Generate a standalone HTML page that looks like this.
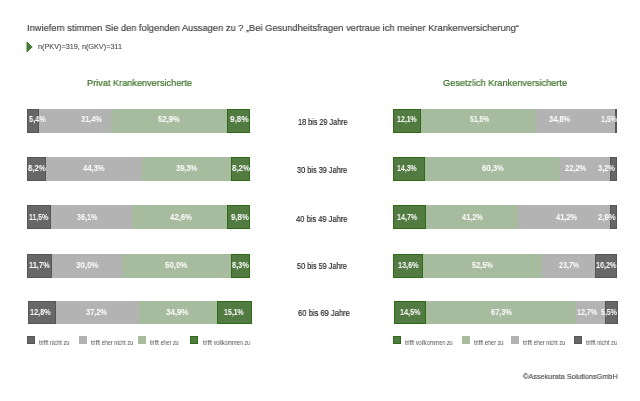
<!DOCTYPE html>
<html><head><meta charset="utf-8">
<style>
html,body{margin:0;padding:0;background:#fff;}
body{width:640px;height:401px;position:relative;overflow:hidden;font-family:"Liberation Sans",sans-serif;}
.s{position:absolute;box-sizing:border-box;}
.tri{position:absolute;}
div[id]{position:absolute;white-space:nowrap;transform-origin:0 0;will-change:transform;}
.v{color:#fff;font-size:8.8px;line-height:10px;font-weight:bold;}
.age{color:#1a1a1a;font-size:8.4px;line-height:10px;-webkit-text-stroke:0.15px #1a1a1a;}
.lg{color:#555;font-size:6.6px;line-height:8px;}
.title{color:#444;font-size:9.95px;line-height:14px;-webkit-text-stroke:0.2px #444;}
.n{color:#4a4a4a;font-size:7px;line-height:10px;-webkit-text-stroke:0.1px #4a4a4a;}
.h{color:#3a7026;font-size:9.3px;line-height:14px;-webkit-text-stroke:0.2px #3a7026;}
.copy{color:#4a4a4a;font-size:8px;line-height:10px;-webkit-text-stroke:0.15px #4a4a4a;}
</style></head><body>
<div id="t0" class="title" style="left:27px;top:20.9px;transform:scaleX(0.9346);">Inwiefern stimmen Sie den folgenden Aussagen zu ? „Bei Gesundheitsfragen vertraue ich meiner Krankenversicherung“</div>
<svg class="tri" width="8" height="12" style="left:26px;top:41.4px"><polygon points="1,1 6.2,6 1,11" fill="#4a7a3a" stroke="#2f6a18" stroke-width="0.8"/></svg>
<div id="t1" class="n" style="left:37.8px;top:41.7px;transform:scaleX(1.0394);">n(PKV)=319, n(GKV)=311</div>
<div id="t2" class="h" style="left:87px;top:76px;transform:scaleX(0.9863);">Privat Krankenversicherte</div>
<div id="t3" class="h" style="left:443px;top:76px;transform:scaleX(0.9834);">Gesetzlich Krankenversicherte</div>
<div class="s" style="left:27px;top:109px;width:11.8px;height:24px;background:#666766;border:1px solid #555655;"></div>
<div class="s" style="left:38.8px;top:109px;width:71.8px;height:24px;background:#b3b3b3;"></div>
<div class="s" style="left:110.6px;top:109px;width:116.6px;height:24px;background:#a7bb9f;"></div>
<div class="s" style="left:227.2px;top:109px;width:22.8px;height:24px;background:#527b42;border:1px solid #2f6a18;"></div>
<div id="t4" class="v" style="left:29px;top:114.2px;transform:scaleX(0.8324);">5,4%</div>
<div id="t5" class="v" style="left:81px;top:114.2px;transform:scaleX(0.8416);">31,4%</div>
<div id="t6" class="v" style="left:158.2px;top:114.2px;transform:scaleX(0.8736);">52,9%</div>
<div id="t7" class="v" style="left:229.7px;top:114.2px;transform:scaleX(0.9271);">9,8%</div>
<div class="s" style="left:27px;top:157px;width:18.8px;height:24px;background:#666766;border:1px solid #555655;"></div>
<div class="s" style="left:45.8px;top:157px;width:95.8px;height:24px;background:#b3b3b3;"></div>
<div class="s" style="left:141.6px;top:157px;width:89.4px;height:24px;background:#a7bb9f;"></div>
<div class="s" style="left:231px;top:157px;width:19.0px;height:24px;background:#527b42;border:1px solid #2f6a18;"></div>
<div id="t8" class="v" style="left:27.9px;top:163.1px;transform:scaleX(0.8872);">8,2%</div>
<div id="t9" class="v" style="left:83.2px;top:163.1px;transform:scaleX(0.8656);">44,3%</div>
<div id="t10" class="v" style="left:175.6px;top:163.1px;transform:scaleX(0.8496);">39,3%</div>
<div id="t11" class="v" style="left:231.9px;top:163.1px;transform:scaleX(0.8922);">8,2%</div>
<div class="s" style="left:27px;top:205px;width:23.6px;height:24px;background:#666766;border:1px solid #555655;"></div>
<div class="s" style="left:50.6px;top:205px;width:81.8px;height:24px;background:#b3b3b3;"></div>
<div class="s" style="left:132.4px;top:205px;width:94.8px;height:24px;background:#a7bb9f;"></div>
<div class="s" style="left:227.2px;top:205px;width:22.8px;height:24px;background:#527b42;border:1px solid #2f6a18;"></div>
<div id="t12" class="v" style="left:29px;top:211.6px;transform:scaleX(0.7806);">11,5%</div>
<div id="t13" class="v" style="left:76.8px;top:211.6px;transform:scaleX(0.8215);">36,1%</div>
<div id="t14" class="v" style="left:169.5px;top:211.6px;transform:scaleX(0.8857);">42,6%</div>
<div id="t15" class="v" style="left:230.6px;top:211.6px;transform:scaleX(0.8872);">9,8%</div>
<div class="s" style="left:27px;top:254px;width:25.3px;height:24px;background:#666766;border:1px solid #555655;"></div>
<div class="s" style="left:52.3px;top:254px;width:69.4px;height:24px;background:#b3b3b3;"></div>
<div class="s" style="left:121.7px;top:254px;width:109.3px;height:24px;background:#a7bb9f;"></div>
<div class="s" style="left:231px;top:254px;width:19.0px;height:24px;background:#527b42;border:1px solid #2f6a18;"></div>
<div id="t16" class="v" style="left:29px;top:260.0px;transform:scaleX(0.8419);">11,7%</div>
<div id="t17" class="v" style="left:75.7px;top:260.0px;transform:scaleX(0.9017);">30,0%</div>
<div id="t18" class="v" style="left:165px;top:260.0px;transform:scaleX(0.9017);">50,0%</div>
<div id="t19" class="v" style="left:231.9px;top:260.0px;transform:scaleX(0.8424);">8,3%</div>
<div class="s" style="left:28px;top:301px;width:28.0px;height:23px;background:#666766;border:1px solid #555655;"></div>
<div class="s" style="left:56px;top:301px;width:83.0px;height:23px;background:#b3b3b3;"></div>
<div class="s" style="left:139px;top:301px;width:77.9px;height:23px;background:#a7bb9f;"></div>
<div class="s" style="left:216.9px;top:301px;width:34.9px;height:23px;background:#527b42;border:1px solid #2f6a18;"></div>
<div id="t20" class="v" style="left:30.3px;top:306.59999999999997px;transform:scaleX(0.8296);">12,8%</div>
<div id="t21" class="v" style="left:85.7px;top:306.59999999999997px;transform:scaleX(0.8416);">37,2%</div>
<div id="t22" class="v" style="left:165.7px;top:306.59999999999997px;transform:scaleX(0.9017);">34,9%</div>
<div id="t23" class="v" style="left:224.4px;top:306.59999999999997px;transform:scaleX(0.7895);">15,1%</div>
<div class="s" style="left:393px;top:109px;width:27.6px;height:24px;background:#527b42;border:1px solid #2f6a18;"></div>
<div class="s" style="left:420.6px;top:109px;width:115.6px;height:24px;background:#a7bb9f;"></div>
<div class="s" style="left:536.2px;top:109px;width:78.6px;height:24px;background:#b3b3b3;"></div>
<div class="s" style="left:614.8px;top:109px;width:1.8px;height:24px;background:#666766;border:1px solid #555655;"></div>
<div id="t24" class="v" style="left:397.2px;top:114.2px;transform:scaleX(0.7895);">12,1%</div>
<div id="t25" class="v" style="left:469.8px;top:114.2px;transform:scaleX(0.7735);">51,5%</div>
<div id="t26" class="v" style="left:549.1px;top:114.2px;transform:scaleX(0.8496);">34,8%</div>
<div id="t27" class="v" style="left:601px;top:114.2px;transform:scaleX(0.8075);">1,5%</div>
<div class="s" style="left:393px;top:157px;width:32.0px;height:24px;background:#527b42;border:1px solid #2f6a18;"></div>
<div class="s" style="left:425px;top:157px;width:135.0px;height:24px;background:#a7bb9f;"></div>
<div class="s" style="left:560px;top:157px;width:50.0px;height:24px;background:#b3b3b3;"></div>
<div class="s" style="left:610px;top:157px;width:6.6px;height:24px;background:#666766;border:1px solid #555655;"></div>
<div id="t28" class="v" style="left:397.2px;top:163.1px;transform:scaleX(0.7895);">14,3%</div>
<div id="t29" class="v" style="left:482.2px;top:163.1px;transform:scaleX(0.8776);">60,3%</div>
<div id="t30" class="v" style="left:565px;top:163.1px;transform:scaleX(0.8496);">22,2%</div>
<div id="t31" class="v" style="left:598.2px;top:163.1px;transform:scaleX(0.8424);">3,2%</div>
<div class="s" style="left:393px;top:205px;width:32.9px;height:24px;background:#527b42;border:1px solid #2f6a18;"></div>
<div class="s" style="left:425.9px;top:205px;width:92.2px;height:24px;background:#a7bb9f;"></div>
<div class="s" style="left:518.1px;top:205px;width:91.9px;height:24px;background:#b3b3b3;"></div>
<div class="s" style="left:610px;top:205px;width:6.6px;height:24px;background:#666766;border:1px solid #555655;"></div>
<div id="t32" class="v" style="left:396.6px;top:211.6px;transform:scaleX(0.8135);">14,7%</div>
<div id="t33" class="v" style="left:461.9px;top:211.6px;transform:scaleX(0.8416);">41,2%</div>
<div id="t34" class="v" style="left:555.7px;top:211.6px;transform:scaleX(0.8496);">41,2%</div>
<div id="t35" class="v" style="left:598.4px;top:211.6px;transform:scaleX(0.8773);">2,9%</div>
<div class="s" style="left:393px;top:254px;width:29.5px;height:24px;background:#527b42;border:1px solid #2f6a18;"></div>
<div class="s" style="left:422.5px;top:254px;width:119.5px;height:24px;background:#a7bb9f;"></div>
<div class="s" style="left:542px;top:254px;width:53.0px;height:24px;background:#b3b3b3;"></div>
<div class="s" style="left:595px;top:254px;width:21.6px;height:24px;background:#666766;border:1px solid #555655;"></div>
<div id="t36" class="v" style="left:397.8px;top:260.0px;transform:scaleX(0.8255);">13,6%</div>
<div id="t37" class="v" style="left:471.9px;top:260.0px;transform:scaleX(0.8416);">52,5%</div>
<div id="t38" class="v" style="left:558.5px;top:260.0px;transform:scaleX(0.8095);">23,7%</div>
<div id="t39" class="v" style="left:595.6px;top:260.0px;transform:scaleX(0.8175);">10,2%</div>
<div class="s" style="left:394.4px;top:301px;width:31.5px;height:23px;background:#527b42;border:1px solid #2f6a18;"></div>
<div class="s" style="left:425.9px;top:301px;width:150.4px;height:23px;background:#a7bb9f;"></div>
<div class="s" style="left:576.3px;top:301px;width:28.7px;height:23px;background:#b3b3b3;"></div>
<div class="s" style="left:605px;top:301px;width:12.8px;height:23px;background:#666766;border:1px solid #555655;"></div>
<div id="t40" class="v" style="left:399.6px;top:306.59999999999997px;transform:scaleX(0.8215);">14,5%</div>
<div id="t41" class="v" style="left:490.6px;top:306.59999999999997px;transform:scaleX(0.8416);">67,3%</div>
<div id="t42" class="v" style="left:577.2px;top:306.59999999999997px;transform:scaleX(0.8135);">12,7%</div>
<div id="t43" class="v" style="left:600.7px;top:306.59999999999997px;transform:scaleX(0.7925);">5,5%</div>
<div id="t44" class="age" style="left:297.6px;top:116.80000000000001px;transform:scaleX(0.8659);">18 bis 29 Jahre</div>
<div id="t45" class="age" style="left:296.9px;top:164.9px;transform:scaleX(0.8764);">30 bis 39 Jahre</div>
<div id="t46" class="age" style="left:296.3px;top:213.70000000000002px;transform:scaleX(0.8991);">40 bis 49 Jahre</div>
<div id="t47" class="age" style="left:296.9px;top:260.9px;transform:scaleX(0.8729);">50 bis 59 Jahre</div>
<div id="t48" class="age" style="left:297.5px;top:307.9px;transform:scaleX(0.9061);">60 bis 69 Jahre</div>
<div class="s" style="left:27px;top:336px;width:8px;height:8px;background:#666766;border:1px solid #555655"></div>
<div id="t49" class="lg" style="left:38.8px;top:338.5px;transform:scaleX(0.8607);">trifft nicht zu</div>
<div class="s" style="left:79px;top:336px;width:8px;height:8px;background:#b3b3b3;border:1px solid #b3b3b3"></div>
<div id="t50" class="lg" style="left:91.3px;top:338.5px;transform:scaleX(0.8362);">trifft eher nicht zu</div>
<div class="s" style="left:138px;top:336px;width:8px;height:8px;background:#a7bb9f;border:1px solid #a7bb9f"></div>
<div id="t51" class="lg" style="left:150.3px;top:338.5px;transform:scaleX(0.8270);">trifft eher zu</div>
<div class="s" style="left:190px;top:336px;width:8px;height:8px;background:#527b42;border:1px solid #2f6a18"></div>
<div id="t52" class="lg" style="left:202.5px;top:338.5px;transform:scaleX(0.8326);">trifft vollkommen zu</div>
<div class="s" style="left:393px;top:336px;width:8px;height:8px;background:#527b42;border:1px solid #2f6a18"></div>
<div id="t53" class="lg" style="left:405.3px;top:338.5px;transform:scaleX(0.8415);">trifft vollkommen zu</div>
<div class="s" style="left:462px;top:336px;width:8px;height:8px;background:#a7bb9f;border:1px solid #a7bb9f"></div>
<div id="t54" class="lg" style="left:473.5px;top:338.5px;transform:scaleX(0.8501);">trifft eher zu</div>
<div class="s" style="left:511px;top:336px;width:8px;height:8px;background:#b3b3b3;border:1px solid #b3b3b3"></div>
<div id="t55" class="lg" style="left:523.2px;top:338.5px;transform:scaleX(0.8362);">trifft eher nicht zu</div>
<div class="s" style="left:574px;top:336px;width:8px;height:8px;background:#666766;border:1px solid #555655"></div>
<div id="t56" class="lg" style="left:586px;top:338.5px;transform:scaleX(0.8748);">trifft nicht zu</div>
<div id="t57" class="copy" style="left:522.7px;top:372.3px;transform:scaleX(0.9081);">©Assekurata SolutionsGmbH</div>
</body></html>
